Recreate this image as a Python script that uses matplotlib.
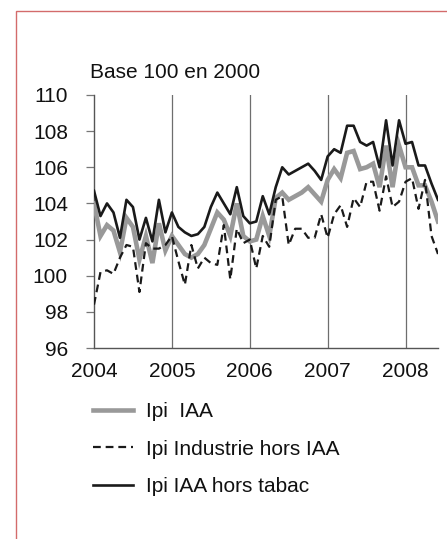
import matplotlib
matplotlib.use("Agg")
import matplotlib.pyplot as plt
from matplotlib.patches import Rectangle
import numpy as np

plt.rcParams['font.family'] = ['Liberation Sans', 'DejaVu Sans']

start_year = 2004
year_ticks = [2004, 2005, 2006, 2007, 2008]
y_ticks = [96, 98, 100, 102, 104, 106, 108, 110]

ipi_iaa = [104.0, 102.2, 102.8, 102.5, 101.3, 103.2, 102.7, 100.9, 102.2, 100.7,
           102.9, 101.4, 102.2, 101.7, 101.2, 101.0, 101.2, 101.7, 102.6, 103.5,
           103.1, 102.2, 104.0, 102.2, 101.9, 102.0, 103.3, 102.2, 104.3, 104.6,
           104.2, 104.4, 104.6, 104.9, 104.5, 104.1, 105.3, 105.9, 105.4, 106.8,
           106.9, 105.9, 106.0, 106.2, 104.9, 107.2, 104.9, 107.2, 106.0, 106.0,
           105.0, 105.0, 104.1, 103.0]

ipi_industrie = [98.4, 100.2, 100.3, 100.1, 101.0, 101.7, 101.6, 99.1, 101.8, 101.5,
                 101.5, 101.7, 102.2, 100.8, 99.5, 101.7, 100.4, 101.0, 100.7, 100.6,
                 102.8, 99.8, 102.6, 101.8, 102.0, 100.4, 102.2, 101.6, 104.2, 104.4,
                 101.7, 102.6, 102.6, 102.1, 102.1, 103.4, 102.1, 103.4, 103.9, 102.7,
                 104.3, 103.8, 105.2, 105.2, 103.6, 105.5, 103.8, 104.1, 105.2, 105.4,
                 103.7, 105.3, 102.2, 101.2]

ipi_hors_tabac = [104.7, 103.3, 104.0, 103.5, 102.1, 104.2, 103.8, 102.0, 103.2, 101.9,
                  104.2, 102.4, 103.5, 102.7, 102.4, 102.2, 102.3, 102.7, 103.8, 104.6,
                  104.0, 103.4, 104.9, 103.3, 102.9, 103.0, 104.4, 103.4, 104.9, 106.0,
                  105.6, 105.8, 106.0, 106.2, 105.8, 105.3, 106.6, 107.0, 106.8, 108.3,
                  108.3, 107.4, 107.2, 107.4, 106.0, 108.6, 106.1, 108.6, 107.3, 107.4,
                  106.1, 106.1, 105.1, 104.2]

labels = ["Ipi  IAA", "Ipi Industrie hors IAA", "Ipi IAA hors tabac"]

W, H = 447, 539
fig = plt.figure(figsize=(W / 100, H / 100), dpi=100)
fig.patch.set_facecolor('white')

ax = fig.add_axes([94 / W, 1 - 348 / H, (438 - 94) / W, (348 - 95) / H])

n = len(ipi_iaa)
x = start_year + np.arange(n) / 12.0

l1, = ax.plot(x, ipi_iaa, color='#999999', lw=3.3, solid_joinstyle='miter', zorder=3)
l2, = ax.plot(x, ipi_industrie, color='#1a1a1a', lw=1.6, dashes=(3.5, 2.2), zorder=4)
l3, = ax.plot(x, ipi_hors_tabac, color='#1a1a1a', lw=1.9, zorder=5)

ax.set_xlim(start_year, x[-1])
ax.set_ylim(96, 110)
ax.set_yticks(y_ticks)
ax.set_xticks(year_ticks)
ax.set_xticklabels([str(y) for y in year_ticks])

for xv in year_ticks[1:]:
    ax.axvline(xv, color='#6e6e6e', lw=0.9, zorder=1)

for s in ['top', 'right']:
    ax.spines[s].set_visible(False)
for s in ['left', 'bottom']:
    ax.spines[s].set_color('#555555')
    ax.spines[s].set_linewidth(1.0)

ax.tick_params(axis='y', direction='out', length=5.8, width=0.9, color='#777777',
               pad=13, labelsize=15, labelcolor='#111111')
ax.tick_params(axis='x', length=0, pad=10, labelsize=15, labelcolor='#111111')

fig.text(90 / W, 1 - 72 / H, "Base 100 en 2000", fontsize=15, va='center', ha='left',
         color='#111111')

leg = fig.legend([l1, l2, l3], labels, loc='upper left',
                 bbox_to_anchor=(93 / W, 1 - 402 / H), frameon=False,
                 fontsize=15, handlelength=1.9, handletextpad=0.65, labelspacing=0.9,
                 borderaxespad=0, borderpad=0)
for t in leg.get_texts():
    t.set_color('#111111')

fig.add_artist(Rectangle((15.7 / W, -0.2), 1.2, 1.2 - 11 / H, transform=fig.transFigure,
                         fill=False, ec='#d36b6b', lw=1.0))

fig.savefig('out.png', dpi=100)
